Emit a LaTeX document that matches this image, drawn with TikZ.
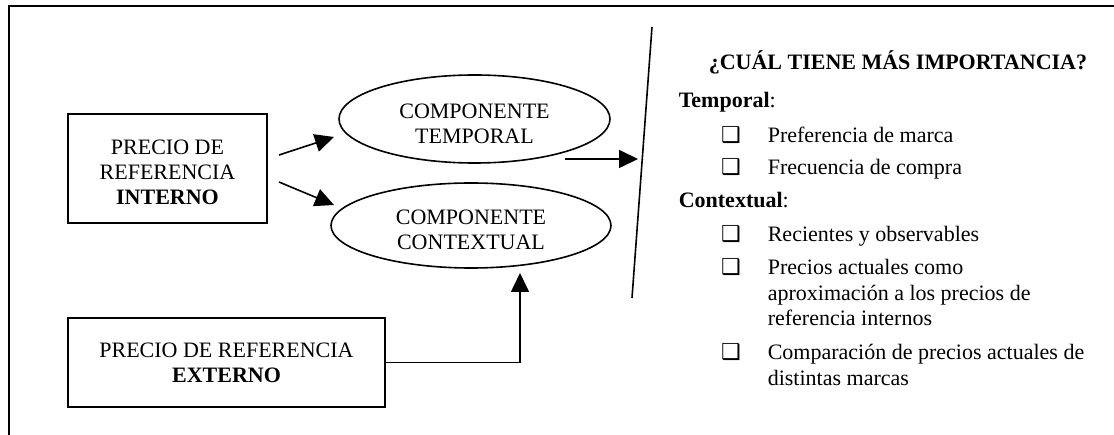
\documentclass[tikz,border=0pt]{standalone}
\usepackage{fontspec}
\setmainfont{Liberation Serif}
\newfontfamily\symfont{DejaVu Sans}
\usetikzlibrary{arrows.meta,shapes.geometric}
\begin{document}
\begin{tikzpicture}[x=1pt,y=-1pt,line width=1.6pt,
  every node/.style={font=\fontsize{22}{25}\selectfont,inner sep=0pt},
  refbox/.style={draw,rectangle},
  comp/.style={draw,ellipse},
  label/.style={align=center},
  arr/.style={-{Triangle[length=19pt,width=18pt]}},
  line/.style={anchor=base west},
  tick/.style={anchor=base,font=\symfont\fontsize{22}{24}\selectfont}]

% page and frame
\fill[white] (0,0) rectangle (1114,435);
\useasboundingbox (0,0) rectangle (1114,435);
\draw[line width=2pt] (1130,6) -- (9,6) -- (9,450);

% reference prices
\node[refbox,minimum width=199pt,minimum height=109pt] (interno) at (167.5,168.5) {};
\node[label] (internoText) at (167.5,172) {PRECIO DE\\REFERENCIA\\\textbf{INTERNO}};
\node[refbox,minimum width=317pt,minimum height=89pt] (externo) at (226.5,362.5) {};
\node[label] (externoText) at (226.5,363) {PRECIO DE REFERENCIA\\\textbf{EXTERNO}};

% components
\node[comp,minimum width=271pt,minimum height=88pt] (temporal) at (474.5,119) {};
\node[label] (temporalText) at (474.5,124) {COMPONENTE\\TEMPORAL};
\node[comp,minimum width=280pt,minimum height=85pt] (contextual) at (471,225.5) {};
\node[label] (contextualText) at (471,230) {COMPONENTE\\CONTEXTUAL};

% connector ends
\coordinate (i1) at (279,155);
\coordinate (t1) at (334,137);
\coordinate (i2) at (279,182);
\coordinate (t2) at (334,205);
\coordinate (tp) at (565,159);
\coordinate (sp) at (638,159);
\coordinate (ct) at (520,273);

\draw[arr] (i1) -- (t1);
\draw[arr] (i2) -- (t2);
\draw[arr] (tp) -- (sp);
\draw[arr] (externo.east) -| (ct);

% divider
\coordinate (dTop) at (652,27);
\coordinate (dBot) at (632,298);
\draw (dTop) -- (dBot);

% summary
\node[line] (title) at (708,70) {\textbf{¿CUÁL TIENE MÁS IMPORTANCIA?}};
\node[line] (htemp) at (678,108) {\textbf{Temporal}:};
\node[tick] (k1) at (731,143) {❑};
\node[line] (l1) at (767,143) {Preferencia de marca};
\node[tick] (k2) at (731,175) {❑};
\node[line] (l2) at (767,175) {Frecuencia de compra};
\node[line] (hcont) at (678,208) {\textbf{Contextual}:};
\node[tick] (k3) at (731,242) {❑};
\node[line] (l3) at (767,242) {Recientes y observables};
\node[tick] (k4) at (731,275) {❑};
\node[line] (l4a) at (767,275) {Precios actuales como};
\node[line] (l4b) at (767,301) {aproximación a los precios de};
\node[line] (l4c) at (767,326) {referencia internos};
\node[tick] (k5) at (731,360) {❑};
\node[line] (l5a) at (767,360) {Comparación de precios actuales de};
\node[line] (l5b) at (767,386) {distintas marcas};
\end{tikzpicture}
\end{document}
